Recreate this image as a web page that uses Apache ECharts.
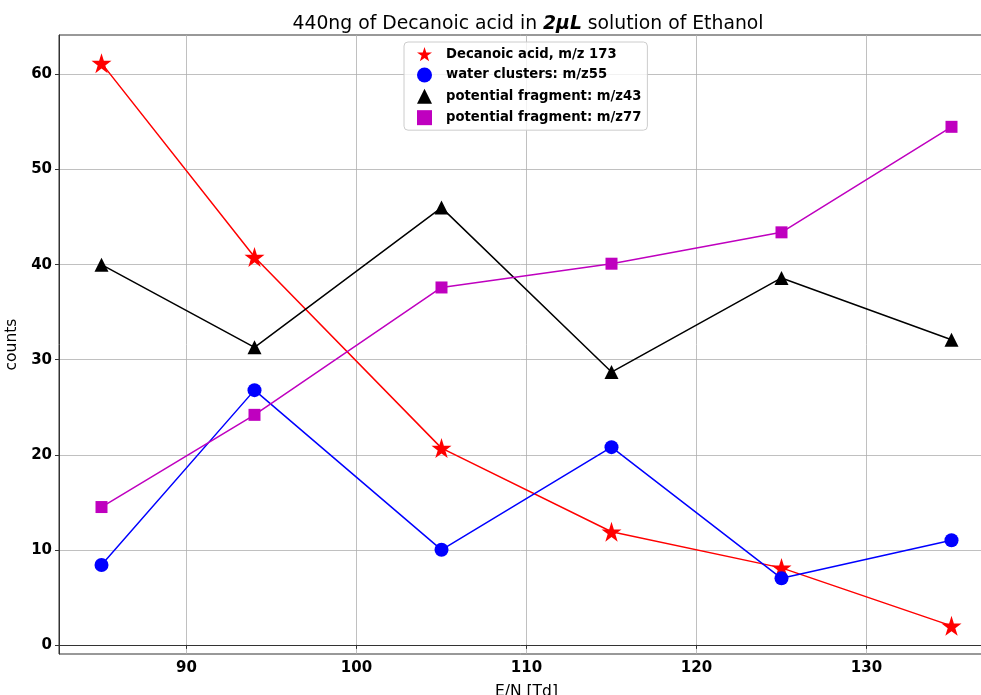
<!DOCTYPE html>
<html><head><meta charset="utf-8">
<script src="https://cdn.jsdelivr.net/npm/echarts@6/dist/echarts.min.js"></script>
<style>html,body{margin:0;padding:0;background:#fff}#c{width:981px;height:695px}</style>
</head><body><div id="c"></div>
<script>
const xValues = [85, 94, 105, 115, 125, 135];
const decanoic = [61.2, 40.8, 20.7, 11.9, 8.1, 2.0];
const water = [8.4, 26.8, 10.0, 20.8, 7.0, 11.0];
const frag43 = [40.0, 31.3, 46.0, 28.7, 38.6, 32.1];
const frag77 = [14.5, 24.2, 37.6, 40.1, 43.4, 54.5];
const xTicks = [90, 100, 110, 120, 130];
const yTicks = [0, 10, 20, 30, 40, 50, 60];
const names = ['Decanoic acid, m/z 173', 'water clusters: m/z55', 'potential fragment: m/z43', 'potential fragment: m/z77'];

const star = 'path://M0,-1L0.2245,-0.309L0.951,-0.309L0.3633,0.118L0.5878,0.809L0,0.382L-0.5878,0.809L-0.3633,0.118L-0.951,-0.309L-0.2245,-0.309Z';
const icons = [star, 'circle', 'triangle', 'rect'];
const pair = arr => xValues.map((x, i) => [x, arr[i]]);
const font = 'DejaVu Sans';
function mk(name, data, color, symbol, size) {
  return { name, type: 'line', data: pair(data), symbol, symbolSize: size,
    lineStyle: { color, width: 1.5 }, itemStyle: { color }, z: 3, animation: false };
}
const chart = echarts.init(document.getElementById('c'), null, { renderer: 'canvas' });
chart.setOption({
  animation: false,
  title: {
    text: '440ng of Decanoic acid in {b|2μL} solution of Ethanol',
    left: 523, top: 10, textAlign: 'center',
    textStyle: { fontFamily: font, fontSize: 18.8, fontWeight: 'normal', color: '#000',
      rich: { b: { fontFamily: font, fontSize: 18.8, fontWeight: 'bold', fontStyle: 'italic', color: '#000' } } }
  },
  grid: { left: 59, right: -13, top: 35, bottom: 41, show: true, borderColor: '#333', borderWidth: 1,
    outerBoundsMode: 'none', containLabel: false },
  legend: {
    left: 404, top: 42, orient: 'vertical', itemGap: 6.3, itemWidth: 15, itemHeight: 15,
    padding: [5, 6, 5, 13], backgroundColor: 'rgba(255,255,255,0.8)', borderColor: '#ccc', borderWidth: 1, borderRadius: 4,
    textStyle: { fontFamily: font, fontSize: 13.2, fontWeight: 'bold', color: '#000', padding: [0, 0, 0, 9] },
    data: names.map((n, i) => ({ name: n, icon: icons[i] }))
  },
  xAxis: {
    type: 'value', min: 82.5, max: 137.5,
    name: 'E/N [Td]', nameLocation: 'middle', nameGap: 30,
    nameTextStyle: { fontFamily: font, fontSize: 15.5, color: '#000' },
    axisLine: { show: true, lineStyle: { color: '#333' } },
    axisTick: { show: true, length: 4, customValues: xTicks, lineStyle: { color: '#333' } },
    axisLabel: { customValues: xTicks, fontFamily: font, fontSize: 15, fontWeight: 'bold', color: '#000', margin: 7 },
    splitLine: { show: true, lineStyle: { color: '#b0b0b0', width: 0.8 } }
  },
  yAxis: {
    type: 'value', min: -0.96, max: 64.16,
    name: 'counts', nameLocation: 'middle', nameGap: 34,
    nameTextStyle: { fontFamily: font, fontSize: 15.5, color: '#000' },
    axisLine: { show: true, lineStyle: { color: '#333' } },
    axisTick: { show: true, length: 4, customValues: yTicks, lineStyle: { color: '#333' } },
    axisLabel: { customValues: yTicks, fontFamily: font, fontSize: 15, fontWeight: 'bold', color: '#000', margin: 7 },
    splitLine: { show: true, lineStyle: { color: '#b0b0b0', width: 0.8 } }
  },
  series: [
    mk(names[0], decanoic, '#ff0000', star, 20),
    mk(names[1], water, '#0000ff', 'circle', 14),
    mk(names[2], frag43, '#000000', 'triangle', 14),
    mk(names[3], frag77, '#bf00bf', 'rect', 12)
  ]
});
</script></body></html>
